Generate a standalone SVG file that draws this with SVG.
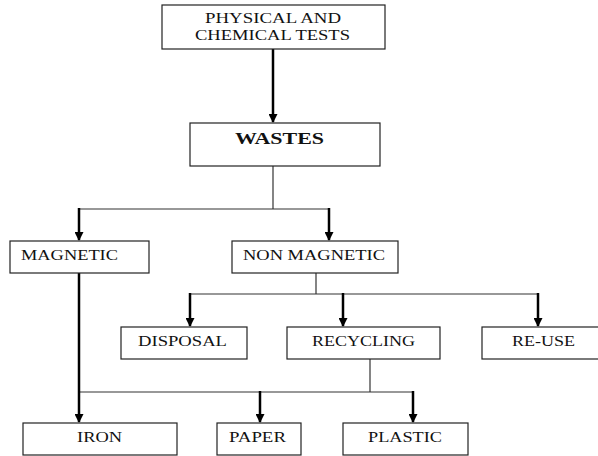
<svg xmlns="http://www.w3.org/2000/svg" width="598" height="456" viewBox="0 0 598 456">
<style>
rect{fill:#fff;stroke:#222;stroke-width:1.2}
text{font-family:"Liberation Serif","Times New Roman",serif;font-size:14.5px;fill:#111;text-anchor:start}
.thin{stroke:#333;stroke-width:1.2;fill:none}
.thick{stroke:#000;stroke-width:2.5;fill:none}
</style>
<defs>
<marker id="a" markerUnits="userSpaceOnUse" markerWidth="10" markerHeight="9" refX="9" refY="5" orient="auto" viewBox="0 0 10 10">
<path d="M0,0 L10,5 L0,10 Z" fill="#000"/>
</marker>
</defs>
<g id="connectors">
<line class="thick" x1="273" y1="49" x2="273" y2="122" marker-end="url(#a)"/>
<polyline class="thin" points="273,166 273,209"/>
<line class="thin" x1="79" y1="209" x2="329" y2="209"/>
<line class="thick" x1="79" y1="208" x2="79" y2="240" marker-end="url(#a)"/>
<line class="thick" x1="329" y1="208" x2="329" y2="240" marker-end="url(#a)"/>
<polyline class="thin" points="316,273 316,294"/>
<line class="thin" x1="190" y1="294" x2="538" y2="294"/>
<line class="thick" x1="190" y1="293" x2="190" y2="326" marker-end="url(#a)"/>
<line class="thick" x1="343" y1="293" x2="343" y2="326" marker-end="url(#a)"/>
<line class="thick" x1="538" y1="293" x2="538" y2="326" marker-end="url(#a)"/>
<polyline class="thin" points="370,359 370,392"/>
<line class="thin" x1="79" y1="392" x2="413" y2="392"/>
<line class="thick" x1="79" y1="273" x2="79" y2="422" marker-end="url(#a)"/>
<line class="thick" x1="260" y1="391" x2="260" y2="422" marker-end="url(#a)"/>
<line class="thick" x1="413" y1="391" x2="413" y2="422" marker-end="url(#a)"/>
</g>
<g id="tests"><rect x="162" y="5" width="223" height="44"/><text x="205" y="23" textLength="136" lengthAdjust="spacingAndGlyphs">PHYSICAL AND</text><text x="195" y="40" textLength="155" lengthAdjust="spacingAndGlyphs">CHEMICAL TESTS</text></g>
<g id="wastes"><rect x="190" y="123" width="190" height="43"/><text x="235" y="144" style="font-weight:bold;font-size:17px" textLength="89" lengthAdjust="spacingAndGlyphs">WASTES</text></g>
<g id="magnetic"><rect x="10" y="241" width="139" height="32"/><text x="21" y="260" textLength="97" lengthAdjust="spacingAndGlyphs">MAGNETIC</text></g>
<g id="nonmagnetic"><rect x="232" y="241" width="166" height="32"/><text x="243" y="260" textLength="142" lengthAdjust="spacingAndGlyphs">NON MAGNETIC</text></g>
<g id="disposal"><rect x="121" y="327" width="126" height="32"/><text x="138" y="346" textLength="89" lengthAdjust="spacingAndGlyphs">DISPOSAL</text></g>
<g id="recycling"><rect x="287" y="327" width="153" height="32"/><text x="312" y="346" textLength="103" lengthAdjust="spacingAndGlyphs">RECYCLING</text></g>
<g id="reuse"><rect x="482" y="327" width="120" height="32"/><text x="512" y="346" textLength="63" lengthAdjust="spacingAndGlyphs">RE-USE</text></g>
<g id="iron"><rect x="23" y="423" width="154" height="32"/><text x="77" y="442" textLength="45" lengthAdjust="spacingAndGlyphs">IRON</text></g>
<g id="paper"><rect x="217" y="423" width="84" height="32"/><text x="229" y="442" textLength="57" lengthAdjust="spacingAndGlyphs">PAPER</text></g>
<g id="plastic"><rect x="343" y="423" width="125" height="32"/><text x="368" y="442" textLength="74" lengthAdjust="spacingAndGlyphs">PLASTIC</text></g>
</svg>
